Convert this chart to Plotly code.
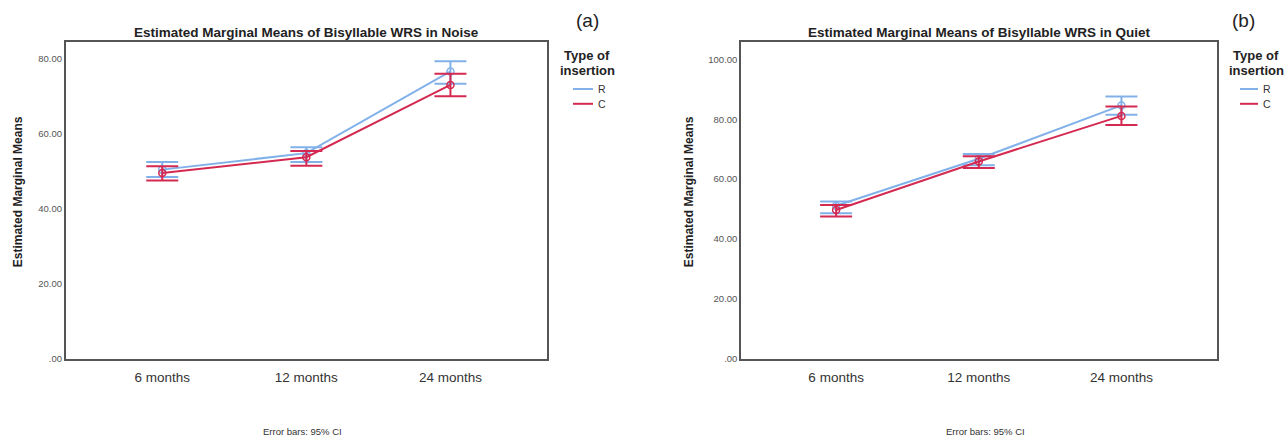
import plotly.graph_objects as go

categories = ["6 months", "12 months", "24 months"]
groups = ["R", "C"]

# Panel (a): WRS in Noise
noise_R_mean = [50.5, 54.9, 76.7]
noise_R_upper = [52.5, 56.5, 79.4]
noise_R_lower = [48.5, 52.5, 73.4]
noise_C_mean = [49.6, 53.8, 73.1]
noise_C_upper = [51.4, 55.5, 76.1]
noise_C_lower = [47.6, 51.5, 70.1]

# Panel (b): WRS in Quiet
quiet_R_mean = [51.1, 66.8, 84.6]
quiet_R_upper = [52.5, 68.4, 87.6]
quiet_R_lower = [48.6, 64.6, 81.5]
quiet_C_mean = [49.7, 65.9, 81.1]
quiet_C_upper = [51.4, 67.6, 84.2]
quiet_C_lower = [47.5, 63.7, 78.1]

noise_ticks = [0, 20, 40, 60, 80]
noise_ticktext = [".00", "20.00", "40.00", "60.00", "80.00"]
quiet_ticks = [0, 20, 40, 60, 80, 100]
quiet_ticktext = [".00", "20.00", "40.00", "60.00", "80.00", "100.00"]

colors = {"R": "#82B1EA", "C": "#D42A52"}
FONT = "Liberation Sans, Arial, sans-serif"
W, H = 1285, 438

fig = go.Figure()
xs = list(range(len(categories)))

panels = [
    ("x", "y", {"R": (noise_R_mean, noise_R_upper, noise_R_lower),
                "C": (noise_C_mean, noise_C_upper, noise_C_lower)}),
    ("x2", "y2", {"R": (quiet_R_mean, quiet_R_upper, quiet_R_lower),
                  "C": (quiet_C_mean, quiet_C_upper, quiet_C_lower)}),
]

for xa, ya, data in panels:
    for g in groups:
        m, up, lo = data[g]
        fig.add_trace(go.Scatter(
            x=xs, y=m, xaxis=xa, yaxis=ya, mode="lines+markers", name=g,
            line=dict(color=colors[g], width=2),
            marker=dict(symbol="circle-open", size=7, color=colors[g], line=dict(width=1.5)),
            error_y=dict(type="data", symmetric=False,
                         array=[u - v for u, v in zip(up, m)],
                         arrayminus=[v - l for v, l in zip(m, lo)],
                         color=colors[g], thickness=2, width=16),
            showlegend=False, hoverinfo="skip"))

axis_common = dict(showgrid=False, zeroline=False, showline=True, mirror=True,
                   linecolor="#555555", linewidth=1.5, ticks="", fixedrange=True)

y0, y1 = (H - 363) / H, (H - 42.7) / H
fig.update_layout(
    width=W, height=H,
    margin=dict(l=0, r=0, t=0, b=0),
    paper_bgcolor="white", plot_bgcolor="white",
    font=dict(family=FONT, color="#333333"),
    showlegend=False,
    xaxis=dict(domain=[65.7 / W, 547 / W], range=[-0.67, 2.67], ticklabelstandoff=5,
               tickvals=xs, ticktext=categories, tickfont=dict(size=13.5, color="#333"), **axis_common),
    yaxis=dict(domain=[y0, y1], range=[0, 84.5], tickvals=noise_ticks, ticktext=noise_ticktext,
               tickfont=dict(size=9.5, color="#555"), **axis_common),
    xaxis2=dict(domain=[741 / W, 1217 / W], range=[-0.667, 2.67], anchor="y2", ticklabelstandoff=5,
                tickvals=xs, ticktext=categories, tickfont=dict(size=13.5, color="#333"), **axis_common),
    yaxis2=dict(domain=[y0, y1], range=[0, 105.7], anchor="x2", tickvals=quiet_ticks,
                ticktext=quiet_ticktext, tickfont=dict(size=9.5, color="#555"), **axis_common),
)

ann = [
    dict(text="<b>Estimated Marginal Means of Bisyllable WRS in Noise</b>", x=306, y=33,
         font=dict(size=13.5, color="#222")),
    dict(text="<b>Estimated Marginal Means of Bisyllable WRS in Quiet</b>", x=979, y=33,
         font=dict(size=13.5, color="#222")),
    dict(text="(a)", x=587, y=21, font=dict(size=19, color="#222")),
    dict(text="(b)", x=1243, y=21, font=dict(size=19, color="#222")),
    dict(text="<b>Estimated Marginal Means</b>", x=18, y=194.5, textangle=-90,
         font=dict(size=12, color="#222")),
    dict(text="<b>Estimated Marginal Means</b>", x=689, y=194.5, textangle=-90,
         font=dict(size=12, color="#222")),
    dict(text="Error bars: 95% CI", x=302, y=436, font=dict(size=9.5, color="#333")),
    dict(text="Error bars: 95% CI", x=985, y=436, font=dict(size=9.5, color="#333")),
]
# legend blocks (title + keys) for each panel
legend_pos = [(587, 573, 593), (1256, 1240, 1258)]
for cx, lx0, lx1 in legend_pos:
    ann.append(dict(text="<b>Type of</b>", x=cx, y=56, font=dict(size=13, color="#222")))
    ann.append(dict(text="<b>insertion</b>", x=cx, y=71, font=dict(size=13, color="#222")))
    for g, yy in zip(groups, [90, 105]):
        ann.append(dict(text=g, x=lx1 + 3, y=yy, xanchor="left", font=dict(size=10.5, color="#333")))
        fig.add_shape(type="line", xref="paper", yref="paper", x0=lx0 / W, x1=lx1 / W,
                      y0=1 - yy / H, y1=1 - yy / H, line=dict(color=colors[g], width=2))

for a in ann:
    a = dict(a)
    a["x"] = a["x"] / W
    a["y"] = 1 - a["y"] / H
    a.setdefault("xanchor", "center")
    fig.add_annotation(xref="paper", yref="paper", showarrow=False, yanchor="middle", **a)

fig.write_html("out.html", config={"displayModeBar": False},
               post_script="document.body.style.margin='0';document.body.style.overflow='hidden';")
